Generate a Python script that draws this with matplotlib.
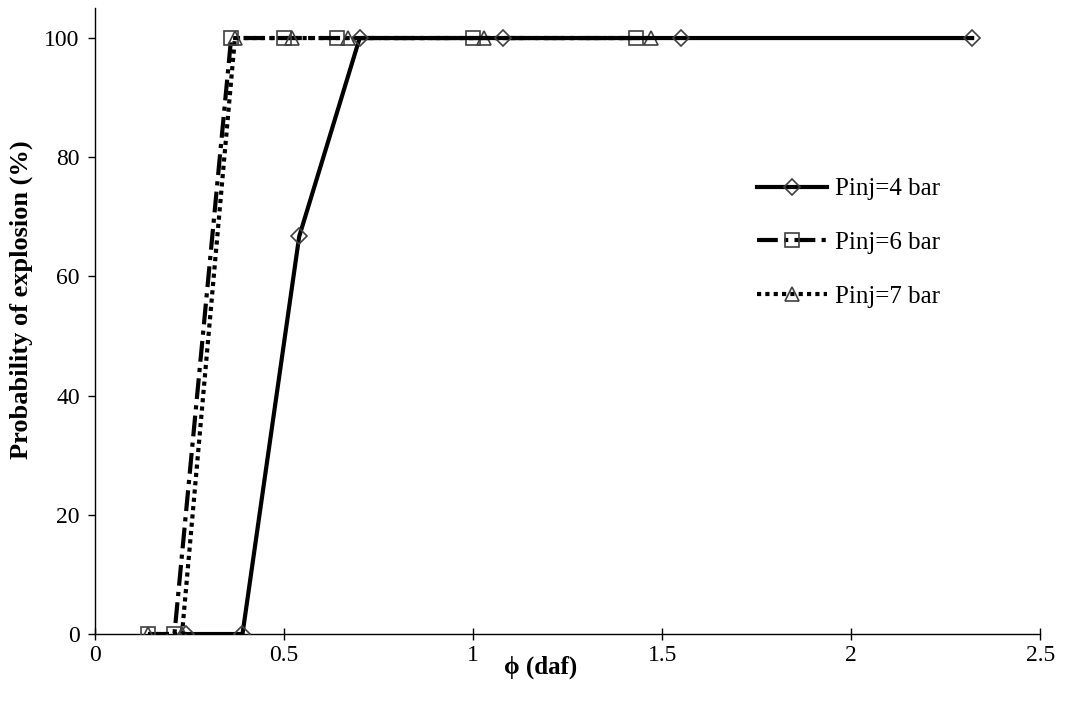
import matplotlib
matplotlib.use("Agg")
import matplotlib.pyplot as plt

# Data
x_4bar = [0.24, 0.39, 0.54, 0.70, 1.08, 1.55, 2.32]
y_4bar = [0, 0, 66.7, 100, 100, 100, 100]
x_6bar = [0.14, 0.21, 0.36, 0.50, 0.64, 1.00, 1.43]
y_6bar = [0, 0, 100, 100, 100, 100, 100]
x_7bar = [0.14, 0.23, 0.37, 0.52, 0.67, 1.03, 1.47]
y_7bar = [0, 0, 100, 100, 100, 100, 100]
labels = ["Pinj=4 bar", "Pinj=6 bar", "Pinj=7 bar"]
xticks = [0, 0.5, 1, 1.5, 2, 2.5]
xticklabels = ["0", "0.5", "1", "1.5", "2", "2.5"]
yticks = [0, 20, 40, 60, 80, 100]

plt.rcParams['font.family'] = ['Liberation Serif', 'DejaVu Serif']

fig = plt.figure(figsize=(10.74, 7.16), dpi=100)
ax = fig.add_axes([0.0885, 0.1145, 0.88, 0.874])

edge = '#404040'
l4, = ax.plot(x_4bar, y_4bar, color='black', lw=3.0, ls='-', marker='D', ms=8.5,
              mfc='none', mec=edge, mew=1.2, zorder=4, label=labels[0])
l6, = ax.plot(x_6bar, y_6bar, color='black', lw=3.0, ls=(0, (5, 1.5, 1, 1.5)), marker='s', ms=10.5,
              mfc='none', mec=edge, mew=1.2, zorder=3, label=labels[1])
l7, = ax.plot(x_7bar, y_7bar, color='black', lw=3.0, ls=(0, (1, 1)), marker='^', ms=10.5,
              mfc='none', mec=edge, mew=1.2, zorder=3, label=labels[2])

ax.set_xlim(0, 2.5)
ax.set_ylim(0, 105)
ax.set_xticks(xticks)
ax.set_xticklabels(xticklabels)
ax.set_yticks(yticks)
for s in ['top', 'right']:
    ax.spines[s].set_visible(False)
for s in ['left', 'bottom']:
    ax.spines[s].set_linewidth(1.0)
ax.tick_params(axis='x', direction='inout', length=8, width=1, labelsize=17, pad=4)
ax.tick_params(axis='y', direction='out', length=5, width=1, labelsize=17, pad=6)

ax.set_xlabel('ϕ (daf)', fontsize=18, fontweight='bold')
ax.xaxis.set_label_coords(0.471, -0.035)
ax.set_ylabel('Probability of explosion (%)', fontsize=19, fontweight='bold')
ax.yaxis.set_label_coords(-0.066, 0.535)

leg = ax.legend(handles=[l4, l6, l7], loc='upper left', bbox_to_anchor=(0.69, 0.745),
                frameon=False, fontsize=18, handlelength=2.8, labelspacing=1.25,
                handletextpad=0.3, borderaxespad=0)

fig.savefig('out.png', dpi=100)
